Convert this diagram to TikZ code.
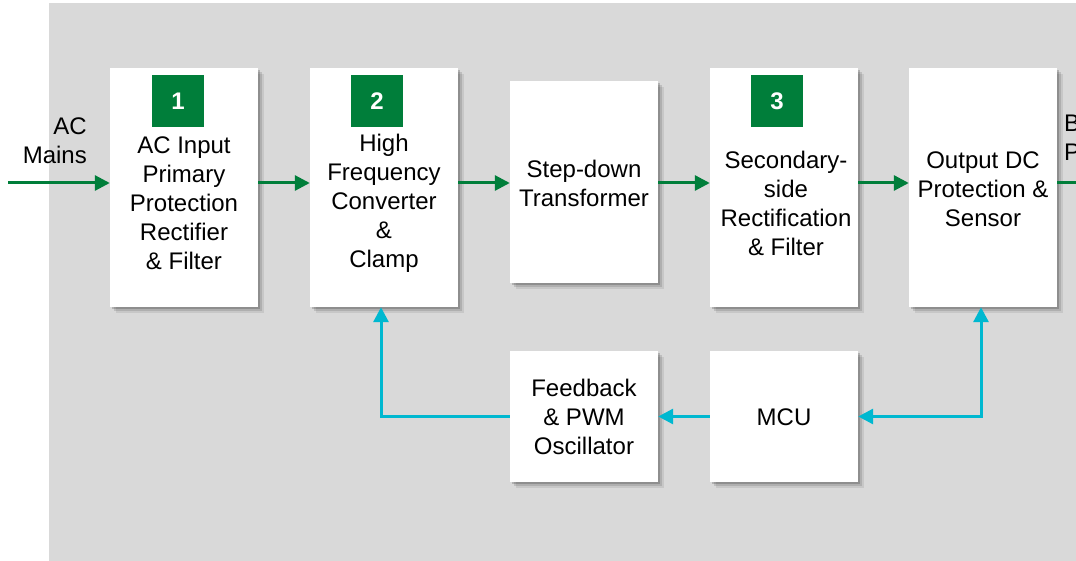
\documentclass[tikz,border=0pt]{standalone}
\usepackage{fontspec}
\setmainfont{Liberation Sans}
\usetikzlibrary{shadows,arrows.meta}
\definecolor{bggray}{RGB}{217,217,217}
\definecolor{sgreen}{RGB}{0,126,58}
\definecolor{scyan}{RGB}{0,184,208}
\tikzset{
  blk/.style={draw=none, fill=white, minimum width=148pt, inner sep=0pt,
    drop shadow={shadow xshift=2pt, shadow yshift=-2pt, fill=black, opacity=.18},
    drop shadow={shadow xshift=4pt, shadow yshift=-4pt, fill=black, opacity=.12},
    drop shadow={shadow xshift=6pt, shadow yshift=-6pt, fill=black, opacity=.08}},
  txt/.style={align=center, font=\fontsize{24}{29}\selectfont, inner sep=0pt},
  num/.style={fill=sgreen, minimum size=52pt, inner sep=0pt, text=white, font=\fontsize{24}{27}\selectfont\bfseries},
  garrow/.style={draw=sgreen, line width=3pt, -{Triangle[length=15pt,width=15pt]}},
  carrow/.style={draw=scyan, line width=3pt, -{Triangle[length=15pt,width=15pt]}},
  carrowb/.style={draw=scyan, line width=3pt, {Triangle[length=15pt,width=15pt]}-{Triangle[length=15pt,width=15pt]}},
}
\begin{document}
\begin{tikzpicture}[x=1pt,y=-1pt]
\useasboundingbox (0,0) rectangle (1076,561);
\fill[bggray] (49,3) rectangle (1076,561);
% blocks
\node[blk, minimum height=239pt] (b1) at (184,187.5) {};
\node[blk, minimum height=239pt] (b2) at (384,187.5) {};
\node[blk, minimum height=202pt] (b3) at (584,182) {};
\node[blk, minimum height=239pt] (b4) at (784,187.5) {};
\node[blk, minimum height=239pt] (b5) at (983,187.5) {};
\node[blk, minimum height=131pt] (fb) at (584,416.5) {};
\node[blk, minimum height=131pt] (mcu) at (784,416.5) {};
% numbers
\node[num] (n1) at (178,101) {1};
\node[num] (n2) at (377,101) {2};
\node[num] (n3) at (777,101) {3};
% texts
\node[txt] (t1) at (184,203.5) {AC Input\\Primary\\Protection\\Rectifier\\\& Filter};
\node[txt] (t2) at (384,203.5) {High\\Frequency\\Converter\\\&\\Clamp};
\node[txt] (t3) at (584,183) {Step-down\\Transformer};
\node[txt] (t4) at (786,203) {Secondary-\\side\\Rectification\\\& Filter};
\node[txt] (t5) at (983,189) {Output DC\\Protection \&\\Sensor};
\node[txt] (t6) at (584,417) {Feedback\\\& PWM\\Oscillator};
\node[txt] (t7) at (784,417) {MCU};
\node[txt, align=right, anchor=east] (tin) at (87,141) {AC\\Mains};
\node[txt, align=left, anchor=west] (tout) at (1064,138) {B\\P};
% connectors
\coordinate (ain) at (8,183);
\coordinate (aout) at (1076,183);
\draw[garrow] (ain) -- (ain -| b1.west);
\draw[garrow] (b1.east |- ain) -- (b2.west |- ain);
\draw[garrow] (b2.east |- ain) -- (b3.west |- ain);
\draw[garrow] (b3.east |- ain) -- (b4.west |- ain);
\draw[garrow] (b4.east |- ain) -- (b5.west |- ain);
\draw[draw=sgreen, line width=3pt] (b5.east |- ain) -- (aout);
\draw[carrow] (fb.west) -| ([xshift=-3pt]b2.south);
\draw[carrow] (mcu.west) -- (fb.east);
\draw[carrowb] (mcu.east) -| ([xshift=-2pt]b5.south);
\end{tikzpicture}
\end{document}
